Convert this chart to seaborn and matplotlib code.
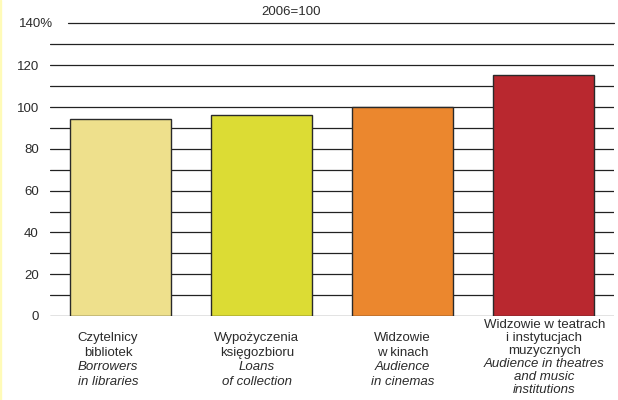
import matplotlib
matplotlib.use("Agg")
import matplotlib.pyplot as plt
import matplotlib.transforms as mtransforms
import pandas as pd
import seaborn as sns

# data (2006 = 100)
categories = ["Czytelnicy bibliotek", "Wypożyczenia księgozbioru",
              "Widzowie w kinach", "Widzowie w teatrach i instytucjach muzycznych"]
values = [94.4, 96.0, 100.0, 115.3]
labels_pl = [["Czytelnicy", "bibliotek"],
             ["Wypożyczenia", "księgozbioru"],
             ["Widzowie", "w kinach"],
             ["Widzowie w teatrach", "i instytucjach", "muzycznych"]]
labels_en = [["Borrowers", "in libraries"],
             ["Loans", "of collection"],
             ["Audience", "in cinemas"],
             ["Audience in theatres", "and music", "institutions"]]
bar_colors = ["#EEE08C", "#DCDC34", "#EB872E", "#B9282F"]
yticks = [0, 20, 40, 60, 80, 100, 120]
# the labels in the original are not exactly centred under the bars
label_shift = [-0.088, -0.033, 0.0, 0.007]

sns.set_style("white")
plt.rcParams["font.family"] = ["Liberation Sans", "DejaVu Sans"]
txt_color = "#2b2b2b"

df = pd.DataFrame({"cat": categories, "val": values})

fig = plt.figure(figsize=(6.18, 4), dpi=100)
ax = fig.add_axes([50 / 618, 84 / 400, 564 / 618, 292.6 / 400])

sns.barplot(data=df, x="cat", y="val", hue="cat", palette=bar_colors,
            saturation=1, width=0.714, edgecolor="#2a2a2a", linewidth=1.0,
            legend=False, ax=ax, zorder=3)

ax.set_xlim(-0.5, 3.5)
ax.set_ylim(0, 140)

# horizontal rules every 10
for v in range(0, 140, 10):
    ax.axhline(v, color="#222222", lw=0.9, zorder=1)
ax.axhline(140, xmin=18 / 564, color="#222222", lw=0.9, zorder=1, clip_on=False)

for s in ax.spines.values():
    s.set_visible(False)
ax.set_xticks([])
ax.set_yticks(yticks)
ax.set_yticklabels([str(t) for t in yticks], fontsize=9.5, color=txt_color)
ax.tick_params(axis="y", length=0, pad=8)
ax.set_xlabel("")
ax.set_ylabel("")

fig.text(19 / 618, 1 - 24 / 400, "140%", fontsize=9.5, color=txt_color,
         ha="left", va="center")
fig.text(291 / 618, 1 - 12 / 400, "2006=100", fontsize=9.5, color=txt_color,
         ha="center", va="center")

# two-language category labels under the bars
trans = mtransforms.blended_transform_factory(ax.transData, fig.transFigure)
for i, (pl, en) in enumerate(zip(labels_pl, labels_en)):
    lines = [(t, "normal") for t in pl] + [(t, "italic") for t in en]
    y0, step = (325, 13.0) if len(lines) > 4 else (338, 14.6)
    for j, (t, style) in enumerate(lines):
        ax.text(i + label_shift[i], 1 - (y0 + j * step) / 400, t,
                transform=trans, ha="center", va="center", fontsize=9.5,
                style=style, color=txt_color)

# thin yellow frame edge at the left
fig.patches.append(plt.Rectangle((0, 0), 1.5 / 618, 1, transform=fig.transFigure,
                                 color="#FFFBB8", zorder=0))

fig.savefig("out.png", dpi=100)
